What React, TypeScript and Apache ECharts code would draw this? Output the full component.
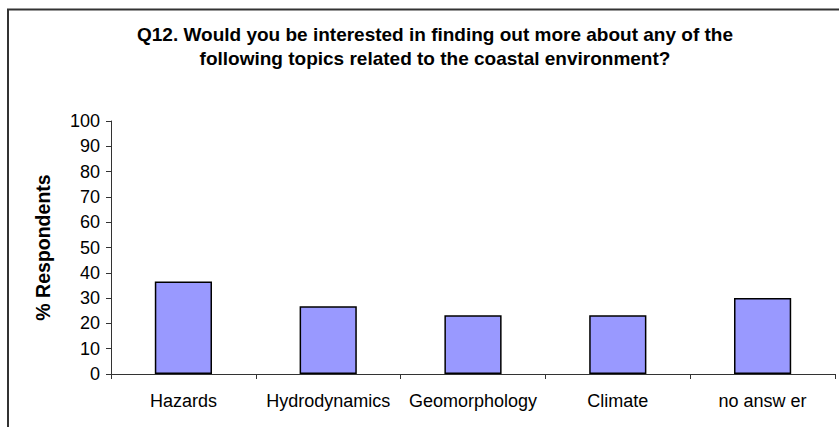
import React, { useEffect, useRef } from "react";
import * as echarts from "echarts";

const titleLines = [
  "Q12. Would you be interested in finding out more about any of the",
  "following topics related to the coastal environment?",
];
const categories = ["Hazards", "Hydrodynamics", "Geomorphology", "Climate", "no answ er"];
const values = [36.6, 26.8, 23.2, 23.2, 30.0];
const yAxisName = "% Respondents";
const yMin = 0;
const yMax = 100;
const yInterval = 10;

const FONT = "'Liberation Sans', Arial, Helvetica, sans-serif";

export default function App() {
  const ref = useRef<HTMLDivElement>(null);
  useEffect(() => {
    if (!ref.current) return;
    const chart = echarts.init(ref.current, undefined, { renderer: "svg" });
    chart.setOption({
      animation: false,
      backgroundColor: "#ffffff",
      title: {
        text: titleLines.join("\n"),
        left: 430,
        textAlign: "center",
        top: 17.5,
        textStyle: {
          fontFamily: FONT,
          fontWeight: "bold",
          fontSize: 19,
          lineHeight: 24,
          color: "#000",
        },
      },
      graphic: [
        {
          type: "polyline",
          shape: { points: [[8, 427], [8, 9.5], [839, 9.5]] },
          style: { stroke: "#333", lineWidth: 2, fill: "none" },
          silent: true,
        },
      ],
      grid: { left: 111, right: 4, top: 121, bottom: 53 },
      xAxis: {
        type: "category",
        data: categories,
        boundaryGap: true,
        axisLine: { show: true, lineStyle: { color: "#333", width: 1 } },
        axisTick: { show: true, length: 5, inside: false, lineStyle: { color: "#333" } },
        axisLabel: { fontFamily: FONT, fontSize: 18, color: "#000", margin: 18, interval: 0 },
        splitLine: { show: false },
      },
      yAxis: {
        type: "value",
        min: yMin,
        max: yMax,
        interval: yInterval,
        name: yAxisName,
        nameLocation: "middle",
        nameGap: 58,
        nameRotate: 90,
        nameTextStyle: { fontFamily: FONT, fontWeight: "bold", fontSize: 19.5, color: "#000" },
        axisLine: { show: true, lineStyle: { color: "#333", width: 1 } },
        axisTick: { show: true, length: 5, lineStyle: { color: "#333" } },
        axisLabel: { fontFamily: FONT, fontSize: 18, color: "#000", margin: 11 },
        splitLine: { show: false },
      },
      series: [
        {
          type: "bar",
          data: values,
          barWidth: "39.5%",
          itemStyle: { color: "#9999FF", borderColor: "#000", borderWidth: 1.5 },
        },
      ],
    });
    return () => chart.dispose();
  }, []);
  return (
    <div
      ref={ref}
      style={{ position: "fixed", left: 0, top: 0, width: 839, height: 427, background: "#fff" }}
    />
  );
}
